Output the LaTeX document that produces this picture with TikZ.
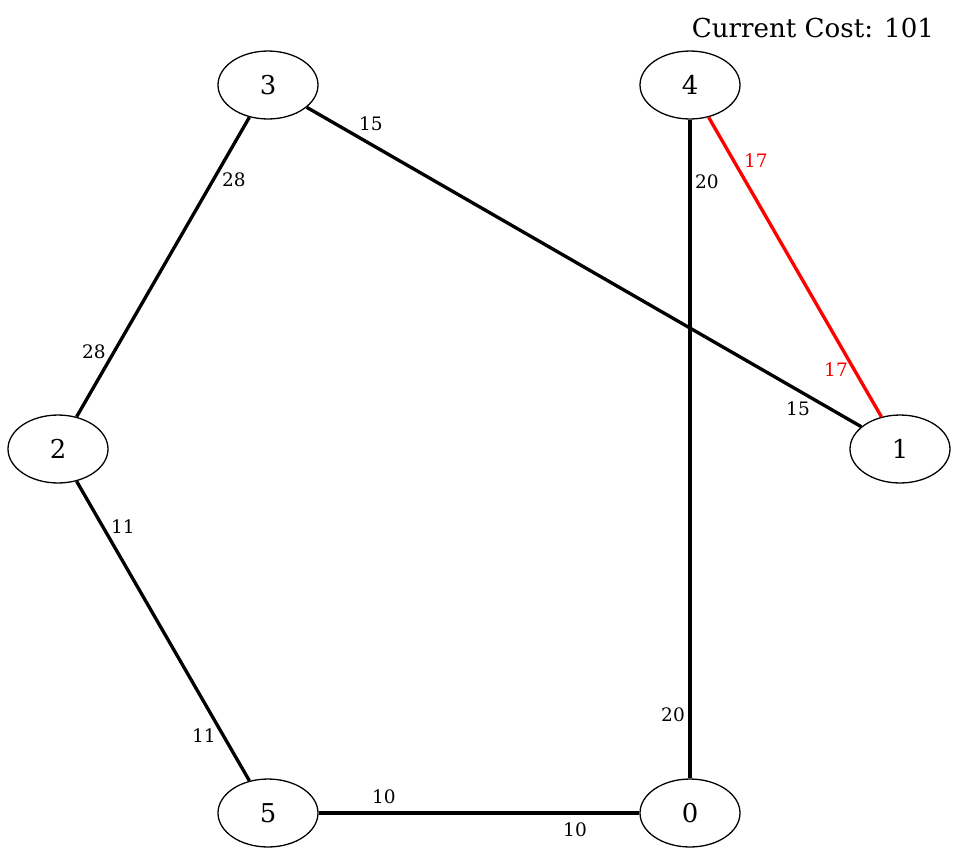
\documentclass[tikz,border=0pt]{standalone}
\usepackage{fontspec}
\setmainfont{DejaVu Serif}
\usetikzlibrary{shapes.geometric}

\begin{document}
\begin{tikzpicture}[x=0.54pt,y=-0.54pt,
  vertex/.style={draw,ellipse,line width=0.7pt,minimum width=54pt,minimum height=36.7pt,inner sep=0pt,font=\fontsize{14}{16}\selectfont},
  weight/.style={inner sep=0pt,font=\fontsize{10}{12}\selectfont},
  link/.style={line width=1.8pt}]
          \useasboundingbox (0,0) rectangle (960,856);
          \node (n3) at (268,85) [vertex] {3};
          \node (n4) at (690,85) [vertex] {4};
          \node (n2) at (58,449) [vertex] {2};
          \node (n1) at (900,449) [vertex] {1};
          \node (n5) at (268,813) [vertex] {5};
          \node (n0) at (690,813) [vertex] {0};
          \draw[link] (n3) -- (n2);
          \draw[link] (n3) -- (n1);
          \draw[link] (n4) -- (n0);
          \draw[link] (n2) -- (n5);
          \draw[link] (n5) -- (n0);
          \draw[link,red] (n4) -- (n1);
          \node (w31) at (371,124) [weight] {15};
          \node (w13) at (798,409) [weight] {15};
          \node (w32) at (234,180) [weight] {28};
          \node (w23) at (94,352) [weight] {28};
          \node (w41) at (756,161) [weight,red] {17};
          \node (w14) at (836,370) [weight,red] {17};
          \node (w40) at (707,182) [weight] {20};
          \node (w04) at (673,715) [weight] {20};
          \node (w25) at (123,527) [weight] {11};
          \node (w52) at (204,736) [weight] {11};
          \node (w50) at (384,797) [weight] {10};
          \node (w05) at (575,830) [weight] {10};
          \node (cost) at (813,28) [font=\fontsize{14.1}{16}\selectfont] {Current Cost: 101};
        \end{tikzpicture}
\end{document}
